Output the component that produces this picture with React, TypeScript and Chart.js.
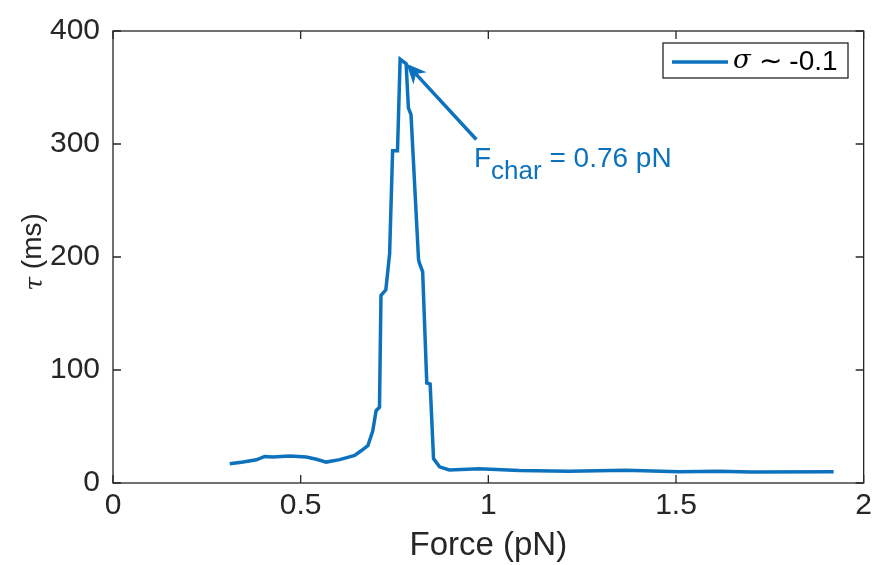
import React, { useEffect, useRef } from "react";
import { Chart, registerables } from "chart.js";

Chart.register(...registerables);

const forceValues = [
  0.311, 0.347, 0.382, 0.404, 0.426, 0.471, 0.515, 0.542, 0.568, 0.604,
  0.644, 0.661, 0.679, 0.692, 0.701, 0.71, 0.714, 0.727, 0.737, 0.745,
  0.758, 0.765, 0.781, 0.787, 0.794, 0.814, 0.816, 0.825, 0.836, 0.845,
  0.854, 0.87, 0.896, 0.976, 1.082, 1.215, 1.366, 1.508, 1.614, 1.7, 1.92,
];
const tauValues = [
  17, 18.5, 20.5, 23.5, 23, 24, 23, 21, 18.5, 20.7,
  24.5, 28.5, 33, 46, 64, 67, 166, 171, 203, 294,
  294, 375, 371, 332, 326, 198, 195, 187, 88.5, 87.6,
  21.6, 14.3, 11.5, 12.5, 11, 10.5, 11.2, 10, 10.3, 9.7, 9.9,
];
const xTicks = [0, 0.5, 1, 1.5, 2];
const yTicks = [0, 100, 200, 300, 400];
const seriesLabel = "σ ∼ -0.1";
const arrowTail = { x: 0.968, y: 304 };
const arrowTip = { x: 0.782, y: 371 };

const BLUE = "#0d72bd";
const AX = "#262626";
const FONT = "'Liberation Sans', Arial, Helvetica, sans-serif";

const customPlugin = {
  id: "custom",
  afterDraw(chart: any) {
    const { ctx, chartArea, scales } = chart;
    const { left, right, top, bottom } = chartArea;
    const xs = scales.x;
    const ys = scales.y;
    ctx.save();
    // frame
    ctx.strokeStyle = AX;
    ctx.lineWidth = 1.3;
    ctx.strokeRect(left, top, right - left, bottom - top);
    // inward ticks
    const tl = 8;
    ctx.beginPath();
    xTicks.forEach((v) => {
      const px = xs.getPixelForValue(v);
      ctx.moveTo(px, bottom);
      ctx.lineTo(px, bottom - tl);
      ctx.moveTo(px, top);
      ctx.lineTo(px, top + tl);
    });
    yTicks.forEach((v) => {
      const py = ys.getPixelForValue(v);
      ctx.moveTo(left, py);
      ctx.lineTo(left + tl, py);
      ctx.moveTo(right, py);
      ctx.lineTo(right - tl, py);
    });
    ctx.stroke();

    // x title
    ctx.fillStyle = AX;
    ctx.font = `33px ${FONT}`;
    ctx.textAlign = "center";
    ctx.textBaseline = "middle";
    ctx.fillText("Force (pN)", (left + right) / 2, 546);

    // y title (rotated)
    ctx.save();
    ctx.translate(33, 252);
    ctx.rotate(-Math.PI / 2);
    ctx.textAlign = "left";
    ctx.textBaseline = "middle";
    ctx.font = `italic 25px 'DejaVu Serif', serif`;
    const tauW = ctx.measureText("τ").width;
    ctx.font = `28px ${FONT}`;
    const restW = ctx.measureText(" (ms)").width;
    const startX = -(tauW + restW) / 2;
    ctx.font = `italic 25px 'DejaVu Serif', serif`;
    ctx.fillText("τ", startX, 2);
    ctx.font = `28px ${FONT}`;
    ctx.fillText(" (ms)", startX + tauW, 0);
    ctx.restore();

    // annotation arrow
    const tx = xs.getPixelForValue(arrowTail.x);
    const ty = ys.getPixelForValue(arrowTail.y);
    const hx = xs.getPixelForValue(arrowTip.x);
    const hy = ys.getPixelForValue(arrowTip.y);
    const ang = Math.atan2(hy - ty, hx - tx);
    const headLen = 20;
    const headW = 9;
    const ux = Math.cos(ang), uy = Math.sin(ang);
    const bx = hx - ux * headLen, by = hy - uy * headLen;
    ctx.strokeStyle = BLUE;
    ctx.fillStyle = BLUE;
    ctx.lineWidth = 3.5;
    ctx.beginPath();
    ctx.moveTo(tx, ty);
    ctx.lineTo(hx - ux * 12, hy - uy * 12);
    ctx.stroke();
    ctx.beginPath();
    ctx.moveTo(hx, hy);
    ctx.lineTo(bx - uy * headW, by + ux * headW);
    ctx.lineTo(hx - ux * headLen * 0.7, hy - uy * headLen * 0.7);
    ctx.lineTo(bx + uy * headW, by - ux * headW);
    ctx.closePath();
    ctx.fill();

    // annotation text
    ctx.textAlign = "left";
    ctx.textBaseline = "alphabetic";
    let ax = 474;
    const base = 167;
    ctx.font = `28px ${FONT}`;
    ctx.fillText("F", ax, base);
    ax += ctx.measureText("F").width;
    ctx.font = `26px ${FONT}`;
    ctx.fillText("char", ax, base + 12);
    ax += ctx.measureText("char").width;
    ctx.font = `28px ${FONT}`;
    ctx.fillText(" = 0.76 pN", ax, base);

    // legend
    const lx = 663, ly = 43, lw = 185, lh = 35;
    ctx.fillStyle = "#ffffff";
    ctx.fillRect(lx, ly, lw, lh);
    ctx.strokeStyle = AX;
    ctx.lineWidth = 1.3;
    ctx.strokeRect(lx, ly, lw, lh);
    ctx.strokeStyle = BLUE;
    ctx.lineWidth = 3.5;
    ctx.beginPath();
    ctx.moveTo(672, 62);
    ctx.lineTo(728, 62);
    ctx.stroke();
    ctx.fillStyle = "#000000";
    ctx.textBaseline = "middle";
    let lxx = 733;
    ctx.font = `italic 26px 'DejaVu Serif', serif`;
    ctx.fillText("σ", lxx, 61);
    lxx += ctx.measureText("σ").width;
    ctx.font = `28px ${FONT}`;
    const rest = seriesLabel.slice(1);
    ctx.fillText(rest, lxx, 62);
    ctx.restore();
  },
};

export default function App() {
  const ref = useRef<HTMLCanvasElement | null>(null);
  useEffect(() => {
    document.body.style.margin = "0";
    const canvas = ref.current;
    if (!canvas) return;
    const data = forceValues.map((f, i) => ({ x: f, y: tauValues[i] }));
    const chart = new Chart(canvas, {
      type: "scatter",
      data: {
        datasets: [
          {
            label: seriesLabel,
            data,
            showLine: true,
            borderColor: BLUE,
            backgroundColor: BLUE,
            borderWidth: 3.5,
            pointRadius: 0,
            tension: 0,
          },
        ],
      },
      options: {
        animation: false,
        responsive: false,
        maintainAspectRatio: false,
        devicePixelRatio: 1,
        layout: { padding: { top: 25, right: 12, left: 0, bottom: 0 } },
        plugins: { legend: { display: false }, tooltip: { enabled: false } },
        scales: {
          x: {
            type: "linear",
            min: 0,
            max: 2,
            afterFit: (s: any) => {
              s.height = 82;
            },
            afterBuildTicks: (s: any) => {
              s.ticks = xTicks.map((v) => ({ value: v }));
            },
            ticks: {
              font: { size: 30, family: FONT },
              color: AX,
              padding: 5,
              maxRotation: 0,
              callback: (v: any) => String(v),
            },
            grid: { display: false, drawTicks: false },
            border: { display: false },
          },
          y: {
            type: "linear",
            min: 0,
            max: 400,
            afterFit: (s: any) => {
              s.width = 113;
            },
            afterBuildTicks: (s: any) => {
              s.ticks = yTicks.map((v) => ({ value: v }));
            },
            ticks: {
              font: { size: 30, family: FONT },
              color: AX,
              padding: 13,
              callback: (v: any) => String(v),
            },
            grid: { display: false, drawTicks: false },
            border: { display: false },
          },
        },
      },
      plugins: [customPlugin],
    });
    return () => chart.destroy();
  }, []);
  return (
    <div style={{ position: "absolute", left: 0, top: 0, width: 877, height: 565, background: "#fff" }}>
      <canvas ref={ref} width={877} height={565} style={{ width: 877, height: 565 }} />
    </div>
  );
}
